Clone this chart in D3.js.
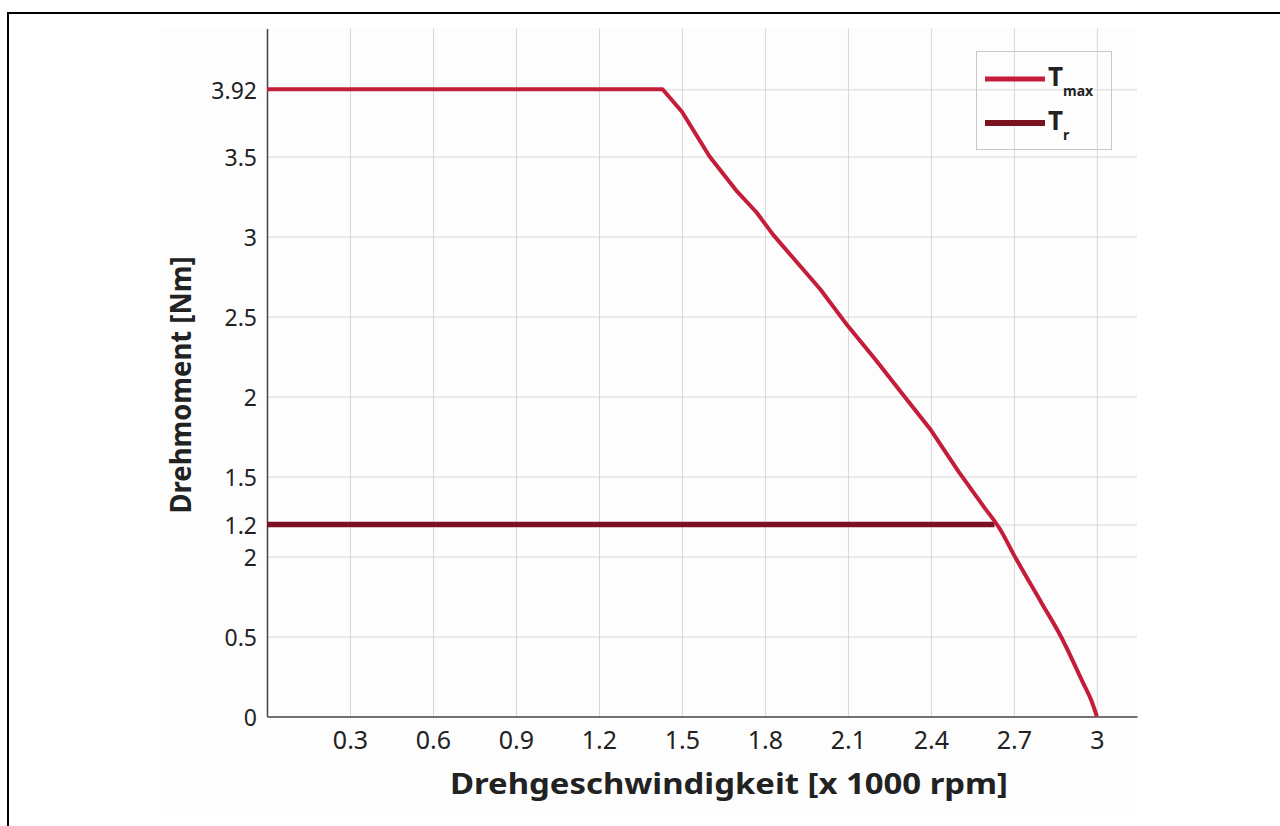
<!DOCTYPE html>
<html>
<head>
<meta charset="utf-8">
<script src="https://cdn.jsdelivr.net/npm/d3@7"></script>
<style>
  body { margin: 0; background: #fff; }
  svg { display: block; font-family: "Noto Sans", "Open Sans", sans-serif; }
</style>
</head>
<body>
<svg id="chart"></svg>
<script>
// speed in 1000 rpm, torque in Nm
const tmaxSpeed  = [0, 1.43, 1.5, 1.6, 1.7, 1.77, 1.83, 1.9, 2.0, 2.1, 2.2, 2.3, 2.4, 2.5, 2.6, 2.65, 2.7, 2.8, 2.87, 2.95, 2.98, 3.0];
const tmaxTorque = [3.92, 3.92, 3.78, 3.5, 3.28, 3.15, 3.01, 2.87, 2.67, 2.44, 2.23, 2.01, 1.79, 1.53, 1.29, 1.17, 1.01, 0.71, 0.5, 0.21, 0.1, 0];
const trSpeed  = [0, 2.63];
const trTorque = [1.2, 1.2];

const xTicks = [0.3, 0.6, 0.9, 1.2, 1.5, 1.8, 2.1, 2.4, 2.7, 3];
const xTickLabels = ["0.3", "0.6", "0.9", "1.2", "1.5", "1.8", "2.1", "2.4", "2.7", "3"];
const yTicks = [0, 0.5, 1.0, 1.2, 1.5, 2, 2.5, 3, 3.5, 3.92];
const yTickLabels = ["0", "0.5", "2", "1.2", "1.5", "2", "2.5", "3", "3.5", "3.92"];

const width = 1280, height = 826;
const colorMax = "#c41d3c";
const colorR = "#7a1222";

const svg = d3.select("#chart").attr("width", width).attr("height", height);

// outer frame (top + left only)
svg.append("path")
  .attr("d", `M8,826 L8,13 L1280,13`)
  .attr("fill", "none")
  .attr("stroke", "#000")
  .attr("stroke-width", 2);

// faint panel
svg.append("rect")
  .attr("x", 160).attr("y", 28)
  .attr("width", 977).attr("height", 789)
  .attr("fill", "#fdfdfd");

const x = d3.scaleLinear().domain([0, 3.145]).range([267, 1137]);
const y = d3.scaleLinear().domain([0, 4.3]).range([716.5, 28.5]);

// grid
svg.append("g")
  .attr("transform", `translate(0,${y(0)})`)
  .call(d3.axisBottom(x).tickValues(xTicks).tickSize(-(y(0) - y(4.3))).tickFormat(""))
  .call(g => g.select(".domain").remove())
  .selectAll("line").attr("stroke", "#d6d6d6");

svg.append("g")
  .attr("transform", `translate(${x(0)},0)`)
  .call(d3.axisLeft(y).tickValues(yTicks.filter(d => d > 0)).tickSize(-(x(3.145) - x(0))).tickFormat(""))
  .call(g => g.select(".domain").remove())
  .selectAll("line").attr("stroke", "#d6d6d6");

// axes
const xAxis = svg.append("g")
  .attr("transform", `translate(0,${y(0)})`)
  .call(d3.axisBottom(x).tickValues(xTicks).tickSize(0).tickPadding(15)
    .tickFormat((d, i) => xTickLabels[i]));
xAxis.select(".domain").attr("stroke", "#444").attr("stroke-width", 1.5);
xAxis.selectAll("text").attr("font-size", 25).attr("fill", "#222").attr("font-family", "Noto Sans");

const yAxis = svg.append("g")
  .attr("transform", `translate(${x(0)},0)`)
  .call(d3.axisLeft(y).tickValues(yTicks).tickSize(0).tickPadding(10)
    .tickFormat((d, i) => yTickLabels[i]));
yAxis.select(".domain").attr("stroke", "#444").attr("stroke-width", 1.5);
yAxis.selectAll("text").attr("font-size", 23).attr("fill", "#222").attr("dy", "0.38em").attr("font-family", "Noto Sans");

// curves
const line = d3.line().x(d => x(d[0])).y(d => y(d[1]));
const smooth = d3.line().x(d => x(d[0])).y(d => y(d[1])).curve(d3.curveMonotoneX);

svg.append("path")
  .datum(trSpeed.map((s, i) => [s, trTorque[i]]))
  .attr("d", line)
  .attr("fill", "none")
  .attr("stroke", colorR)
  .attr("stroke-width", 5.5);

const tmaxPts = tmaxSpeed.map((s, i) => [s, tmaxTorque[i]]);
const split = tmaxSpeed.indexOf(2.6);
svg.append("path")
  .datum(tmaxPts.slice(0, split + 1))
  .attr("d", line)
  .attr("fill", "none")
  .attr("stroke", colorMax)
  .attr("stroke-width", 4)
  .attr("stroke-linejoin", "round");
svg.append("path")
  .datum(tmaxPts.slice(split))
  .attr("d", smooth)
  .attr("fill", "none")
  .attr("stroke", colorMax)
  .attr("stroke-width", 4)
  .attr("stroke-linejoin", "round");

// axis titles
svg.append("text")
  .attr("x", 729).attr("y", 794)
  .attr("text-anchor", "middle")
  .attr("font-size", 28)
  .attr("font-weight", "bold")
  .attr("fill", "#222")
  .attr("textLength", 558)
  .attr("lengthAdjust", "spacingAndGlyphs")
  .text("Drehgeschwindigkeit [x 1000 rpm]");

svg.append("text")
  .attr("transform", "translate(191,385) rotate(-90)")
  .attr("text-anchor", "middle")
  .attr("font-size", 28)
  .attr("font-weight", "bold")
  .attr("fill", "#222")
  .attr("textLength", 257)
  .attr("lengthAdjust", "spacingAndGlyphs")
  .text("Drehmoment [Nm]");

// legend
const legend = svg.append("g");
legend.append("rect")
  .attr("x", 976.5).attr("y", 51.5)
  .attr("width", 135).attr("height", 98)
  .attr("fill", "none")
  .attr("stroke", "#c8c8c8");

const legendItems = [
  { name: "T", sub: "max", color: colorMax, w: 5 },
  { name: "T", sub: "r", color: colorR, w: 6 }
];
legendItems.forEach((d, i) => {
  const ly = 79 + i * 44;
  legend.append("line")
    .attr("x1", 985).attr("x2", 1045)
    .attr("y1", ly).attr("y2", ly)
    .attr("stroke", d.color)
    .attr("stroke-width", d.w);
  const t = legend.append("text")
    .attr("x", 1048).attr("y", ly + 7)
    .attr("font-size", 26)
    .attr("font-weight", "bold")
    .attr("fill", "#222");
  t.append("tspan").text(d.name);
  t.append("tspan")
    .attr("font-size", 14)
    .attr("dy", 10)
    .text(d.sub);
});
</script>
</body>
</html>
